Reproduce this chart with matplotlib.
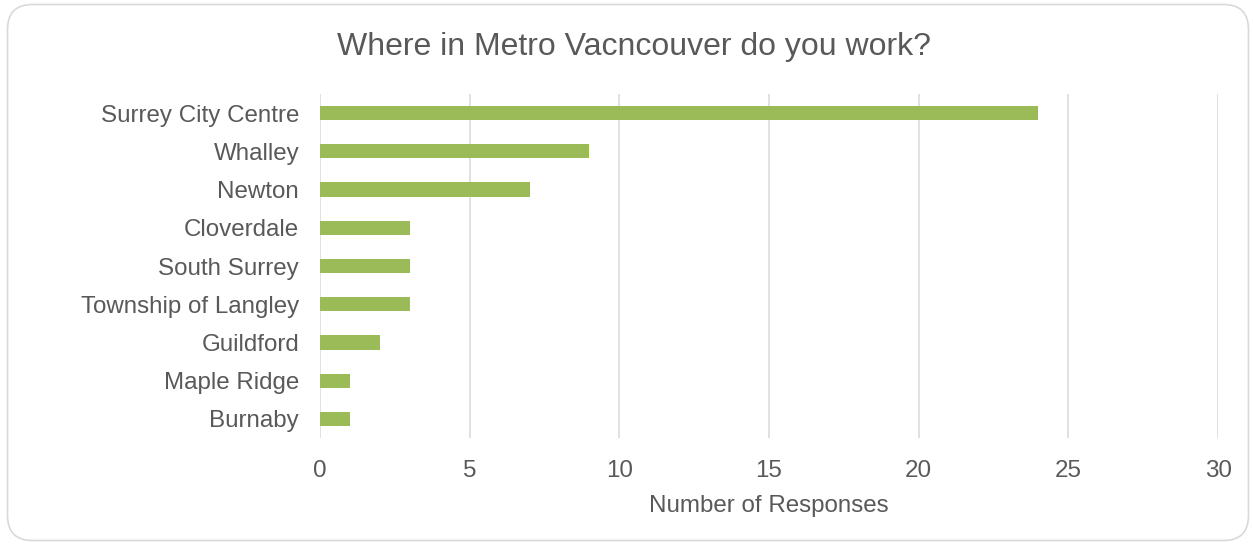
import matplotlib
matplotlib.use("Agg")
import matplotlib.pyplot as plt
from matplotlib.patches import FancyBboxPatch

plt.rcParams['font.family'] = ['Liberation Sans', 'DejaVu Sans']

categories = ["Surrey City Centre", "Whalley", "Newton", "Cloverdale", "South Surrey",
              "Township of Langley", "Guildford", "Maple Ridge", "Burnaby"]
responses = [24, 9, 7, 3, 3, 3, 2, 1, 1]
x_ticks = [0, 5, 10, 15, 20, 25, 30]

title = "Where in Metro Vacncouver do you work?"
x_label = "Number of Responses"

text_color = "#595959"
bar_color = "#9BBB59"
grid_color = "#D9D9D9"

W, H = 1253, 544
fig = plt.figure(figsize=(W / 100, H / 100), dpi=100)

# rounded chart-area border (inch coordinates)
border = FancyBboxPatch((0.075, 0.035), 12.41, 5.36,
                        boxstyle="round,pad=0,rounding_size=0.25",
                        transform=fig.dpi_scale_trans, facecolor="white",
                        edgecolor="#D9D9D9", linewidth=1.2, zorder=-10)
fig.patches.append(border)

ax = fig.add_axes([320 / W, (H - 438) / H, (1218 - 320) / W, (438 - 94) / H])
ax.set_facecolor("none")

y = list(range(len(categories)))
ax.barh(y, responses, height=0.37, color=bar_color, zorder=3)

ax.set_ylim(len(categories) - 0.5, -0.5)
ax.set_xlim(x_ticks[0], x_ticks[-1])
ax.set_xticks(x_ticks)
ax.set_yticks(y)
ax.set_yticklabels(categories)

ax.grid(axis="x", color=grid_color, linewidth=1.1, zorder=0)
for s in ax.spines.values():
    s.set_visible(False)
ax.tick_params(axis="both", length=0, colors=text_color, labelsize=17.4)
ax.tick_params(axis="x", pad=16)
ax.tick_params(axis="y", pad=15)

ax.set_xlabel(x_label, color=text_color, fontsize=17.4, labelpad=9)
fig.text(634 / W, (H - 47) / H, title, ha="center", va="center",
         color=text_color, fontsize=23)

fig.savefig("out.png", dpi=100)
